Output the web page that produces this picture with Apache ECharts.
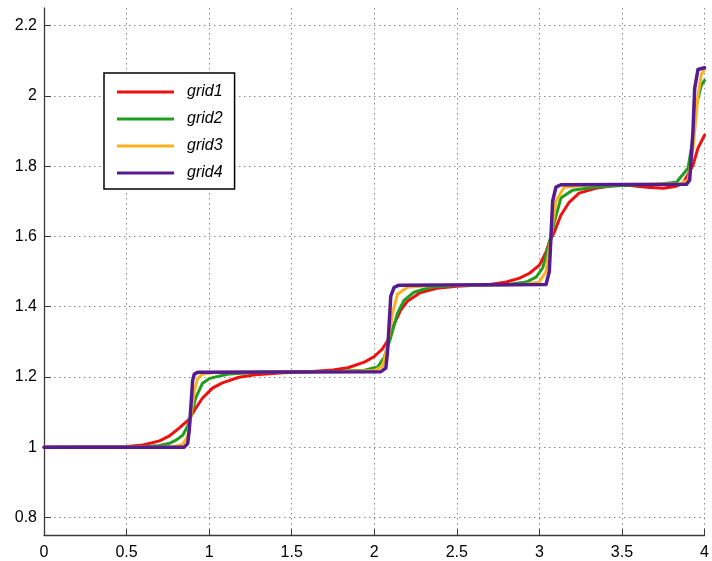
<!DOCTYPE html>
<html>
<head>
  <meta charset="UTF-8">
  <title>grid</title>
  <script src="https://cdn.jsdelivr.net/npm/echarts@6/dist/echarts.min.js"></script>
  <style>
    * { margin: 0; padding: 0; }
    body { background: #fff; }
    #chart { width: 712px; height: 561px; }
  </style>
</head>
<body>
  <div id="chart"></div>
  <script>
    // series names
    const names = ['grid1', 'grid2', 'grid3', 'grid4'];

    // [x, y] points
    const grid1 = [
      [0, 1], [0.5, 1.002], [0.6, 1.006], [0.7, 1.018], [0.76, 1.032], [0.82, 1.055],
      [0.88, 1.08], [0.92, 1.112], [0.96, 1.14], [1.02, 1.168], [1.08, 1.183], [1.18, 1.199],
      [1.28, 1.206], [1.45, 1.212], [1.6, 1.215], [1.75, 1.22], [1.84, 1.226], [1.94, 1.242],
      [2.0, 1.258], [2.05, 1.28], [2.09, 1.31], [2.12, 1.35], [2.16, 1.39], [2.2, 1.415],
      [2.28, 1.44], [2.38, 1.452], [2.5, 1.458], [2.7, 1.463], [2.8, 1.47], [2.88, 1.481],
      [2.94, 1.495], [3.0, 1.518], [3.04, 1.555], [3.06, 1.583], [3.09, 1.612], [3.13, 1.66],
      [3.18, 1.697], [3.24, 1.723], [3.34, 1.737], [3.45, 1.745], [3.55, 1.745], [3.65, 1.74],
      [3.75, 1.737], [3.82, 1.742], [3.87, 1.751], [3.93, 1.802], [3.96, 1.851], [4.0, 1.888]
    ];
    const grid2 = [
      [0, 1], [0.6, 1.001], [0.7, 1.005], [0.76, 1.011], [0.8, 1.02], [0.84, 1.034],
      [0.87, 1.06], [0.89, 1.09], [0.92, 1.142], [0.96, 1.182], [1.0, 1.195], [1.04, 1.2],
      [1.12, 1.208], [1.3, 1.213], [1.6, 1.215], [1.8, 1.216], [1.94, 1.219], [2.02, 1.228],
      [2.06, 1.256], [2.1, 1.313], [2.14, 1.381], [2.18, 1.418], [2.24, 1.441], [2.34, 1.455],
      [2.5, 1.46], [2.8, 1.462], [2.92, 1.47], [2.98, 1.484], [3.02, 1.51], [3.06, 1.583],
      [3.09, 1.64], [3.13, 1.709], [3.2, 1.731], [3.33, 1.74], [3.5, 1.745], [3.7, 1.748],
      [3.83, 1.754], [3.9, 1.794], [3.93, 1.879], [3.95, 1.973], [3.98, 2.03], [4.0, 2.044]
    ];
    const grid3 = [
      [0, 1], [0.78, 1.001], [0.84, 1.008], [0.87, 1.03], [0.89, 1.09], [0.91, 1.16],
      [0.93, 1.195], [0.96, 1.208], [1.05, 1.213], [1.8, 1.215], [2.0, 1.218], [2.05, 1.23],
      [2.08, 1.29], [2.11, 1.38], [2.14, 1.435], [2.2, 1.455], [2.35, 1.46], [2.9, 1.462],
      [3.0, 1.47], [3.04, 1.5], [3.07, 1.6], [3.1, 1.7], [3.15, 1.74], [3.3, 1.746],
      [3.85, 1.75], [3.9, 1.76], [3.93, 1.85], [3.96, 2.0], [3.98, 2.06], [4.0, 2.075]
    ];
    const grid4 = [
      [0, 1], [0.85, 1.0], [0.87, 1.01], [0.88, 1.05], [0.89, 1.12], [0.9, 1.19],
      [0.91, 1.208], [0.93, 1.213], [2.04, 1.215], [2.07, 1.225], [2.08, 1.27], [2.09, 1.35],
      [2.1, 1.43], [2.12, 1.455], [2.15, 1.461], [3.04, 1.463], [3.06, 1.5], [3.07, 1.6],
      [3.08, 1.7], [3.1, 1.74], [3.13, 1.747], [3.89, 1.748], [3.91, 1.76], [3.93, 1.9],
      [3.94, 2.02], [3.96, 2.075], [4.0, 2.08]
    ];
    const colors = ['#f01010', '#1f9e1f', '#fbb21e', '#561b8f'];
    const widths = [3, 3, 3, 3.5];

    const chart = echarts.init(document.getElementById('chart'));

    const gridLine = { show: true, lineStyle: { color: '#888', type: [1.5, 3.5], width: 1 } };
    const axisLine = { show: true, onZero: false, lineStyle: { color: '#3a3a3a', width: 1.3 } };
    const labelFont = { color: '#000', fontSize: 16, fontFamily: 'Liberation Sans, Arial, sans-serif' };

    chart.setOption({
      animation: false,
      grid: { left: 44, right: 3, top: 8, bottom: 26 },
      legend: {
        orient: 'vertical',
        left: 104,
        top: 73,
        padding: [11, 12, 8, 13],
        icon: 'rect',
        itemWidth: 57,
        itemHeight: 3,
        itemGap: 11,
        backgroundColor: '#fff',
        borderColor: '#000',
        borderWidth: 1.5,
        textStyle: { fontSize: 16, fontStyle: 'italic', color: '#000', fontFamily: 'Liberation Sans, Arial, sans-serif', padding: [0, 0, 0, 8] },
        data: names
      },
      xAxis: {
        type: 'value',
        min: 0,
        max: 4,
        interval: 0.5,
        axisLine: axisLine,
        axisTick: { show: true, inside: true, length: 6, lineStyle: { color: '#3a3a3a' } },
        axisLabel: Object.assign({ margin: 10, showMaxLabel: true }, labelFont),
        splitLine: gridLine
      },
      yAxis: {
        type: 'value',
        min: 0.75,
        max: 2.25,
        splitNumber: 7,
        axisLine: axisLine,
        axisTick: { show: true, inside: true, length: 7, lineStyle: { color: '#3a3a3a' } },
        axisLabel: Object.assign({
          margin: 7,
          showMinLabel: false,
          showMaxLabel: false,
          formatter: v => String(Math.round(v * 10) / 10)
        }, labelFont),
        splitLine: Object.assign({ showMinLine: false, showMaxLine: false }, gridLine)
      },
      series: [grid1, grid2, grid3, grid4].map((d, i) => ({
        name: names[i],
        type: 'line',
        data: d,
        showSymbol: false,
        symbol: 'none',
        smooth: false,
        color: colors[i],
        lineStyle: { color: colors[i], width: widths[i], join: 'round', cap: 'round' }
      }))
    });
  </script>
</body>
</html>
